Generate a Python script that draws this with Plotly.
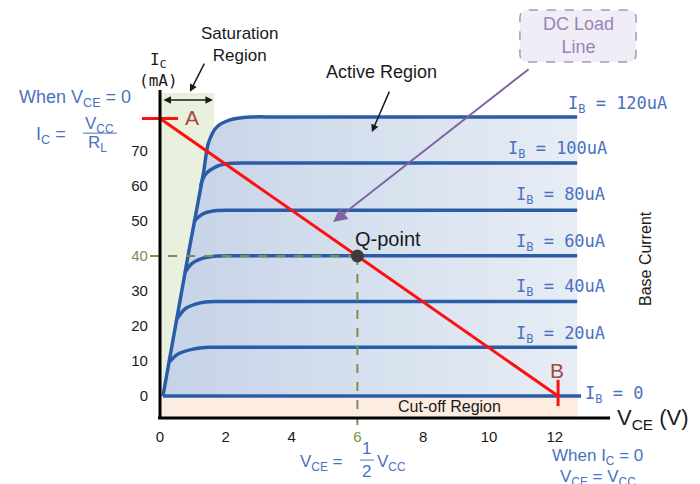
import plotly.graph_objects as go

# Collector characteristic curves (V_CE in volts, I_C in mA)
vce_120 = [0.09, 0.89, 1.32, 1.47, 1.73, 2.13, 2.74, 3.6, 12.68]
ic_120 = [0, 42, 63.6, 72.2, 76.9, 78.9, 79.7, 79.7, 79.7]
vce_100 = [1.23, 1.37, 1.73, 2.13, 2.74, 3.6, 12.68]
ic_100 = [60, 63.2, 65.6, 66.5, 66.6, 66.6, 66.6]
vce_80 = [1.03, 1.15, 1.37, 1.73, 2.13, 3.0, 12.68]
ic_80 = [49.7, 51.0, 52.3, 53.0, 53.1, 53.1, 53.1]
vce_60 = [0.76, 0.95, 1.31, 1.73, 2.13, 3.0, 12.68]
ic_60 = [35.3, 37.7, 39.4, 40.0, 40.1, 40.1, 40.1]
vce_40 = [0.51, 0.78, 1.22, 1.72, 2.6, 12.68]
ic_40 = [22, 25, 26.6, 27.0, 27.0, 27.0]
vce_20 = [0.27, 0.55, 1.01, 1.52, 2.4, 12.68]
ic_20 = [9.6, 12.0, 13.4, 13.9, 13.9, 13.9]
vce_0 = [0.09, 12.8]
ic_0 = [0, 0]

# DC load line, its end markers and the Q-point
vce_load = [0, 12.1]
ic_load = [79.3, 0]
vce_a_tick = [-0.55, 0.55]
ic_a_tick = [79.3, 79.3]
vce_b_tick = [12.1, 12.1]
ic_b_tick = [4.6, -2.9]
q_vce = 6
q_ic = 40

# Region bounds
sat_v = [0, 1.65]
sat_i = [0, 86.6]
cut_v = [0, 12.7]
cut_i = [-6.3, 0]

x_ticks = [0, 2, 4, 6, 8, 10, 12]
y_ticks = [0, 10, 20, 30, 40, 50, 60, 70]

BLUE = '#2b5ca8'
TXT_BLUE = '#4a72c0'
OLIVE = '#7d8f4a'
RED = '#ff1010'
BROWN = '#a3483c'
SANS = 'Liberation Sans'
MONO = 'DejaVu Sans Mono'

fig = go.Figure()

# Active region shading under the top curve
fig.add_trace(go.Scatter(
    x=vce_120, y=ic_120, mode='lines', line=dict(color=BLUE, width=3.5, shape='spline', smoothing=0.8),
    fill='tozeroy', fillgradient=dict(type='horizontal', colorscale=[[0, '#c5d3e7'], [1, '#e7edf5']]),
    hoverinfo='skip'))

for xs, ys in [(vce_100, ic_100), (vce_80, ic_80), (vce_60, ic_60),
               (vce_40, ic_40), (vce_20, ic_20), (vce_0, ic_0)]:
    fig.add_trace(go.Scatter(x=xs, y=ys, mode='lines',
                             line=dict(color=BLUE, width=3.5, shape='spline', smoothing=0.8)))

# Q-point guides
fig.add_trace(go.Scatter(x=[-0.3, q_vce], y=[q_ic, q_ic], mode='lines',
                         line=dict(color=OLIVE, width=2, dash='dash')))
fig.add_trace(go.Scatter(x=[q_vce, q_vce], y=[q_ic, -8.3], mode='lines',
                         line=dict(color=OLIVE, width=2, dash='dash')))

fig.add_trace(go.Scatter(x=vce_load, y=ic_load, mode='lines', line=dict(color=RED, width=3)))
fig.add_trace(go.Scatter(x=vce_a_tick, y=ic_a_tick, mode='lines', line=dict(color=RED, width=3)))
fig.add_trace(go.Scatter(x=vce_b_tick, y=ic_b_tick, mode='lines', line=dict(color=RED, width=3)))
fig.add_trace(go.Scatter(x=[q_vce], y=[q_ic], mode='markers',
                         marker=dict(color='#3c3c3c', size=13)))

# Regions and axis lines
fig.add_shape(type='rect', x0=sat_v[0], x1=sat_v[1], y0=sat_i[0], y1=sat_i[1],
              fillcolor='#e9f0dd', line_width=0, layer='below')
fig.add_shape(type='rect', x0=cut_v[0], x1=cut_v[1], y0=cut_i[0], y1=cut_i[1],
              fillcolor='#fdece0', line_width=0, layer='below')
fig.add_shape(type='line', x0=-0.06, x1=13.68, y0=-6.3, y1=-6.3, line=dict(color='black', width=3))
fig.add_shape(type='line', x0=0, x1=0, y0=-6.3, y1=87.4, line=dict(color='black', width=3))


def rounded_rect(x0, x1, y0, y1, rx, ry):
    return (f'M{x0 + rx},{y0} L{x1 - rx},{y0} Q{x1},{y0} {x1},{y0 + ry} '
            f'L{x1},{y1 - ry} Q{x1},{y1} {x1 - rx},{y1} L{x0 + rx},{y1} '
            f'Q{x0},{y1} {x0},{y1 - ry} L{x0},{y0 + ry} Q{x0},{y0} {x0 + rx},{y0} Z')


fig.add_shape(type='path', path=rounded_rect(10.94, 14.47, 95.4, 110.3, 0.25, 2.3),
              fillcolor='#f1edf6', line=dict(color='#a596bd', width=1.5, dash='dash'))


def note(x, y, text, color='#1a1a1a', size=14, family=SANS, **kw):
    fig.add_annotation(x=x, y=y, text=text, showarrow=False,
                       font=dict(color=color, size=size, family=family), **kw)


def arrow(x, y, ax, ay, color='#1a1a1a', width=1.5, size=1.0, **kw):
    fig.add_annotation(x=x, y=y, ax=ax, ay=ay, axref='x', ayref='y', text='', showarrow=True,
                       arrowhead=2, arrowsize=size, arrowwidth=width, arrowcolor=color, **kw)


note(2.43, 100.3, 'Saturation<br>Region', size=17)
arrow(0.91, 86.9, 1.37, 95.4)
arrow(1.61, 84.6, 0.06, 84.6, arrowside='end+start')
note(6.72, 92.6, 'Active Region', size=18)
arrow(6.44, 75.4, 6.99, 87.4)
note(12.72, 103.0, 'DC Load<br>Line', color='#9885b5', size=18)
arrow(5.26, 49.7, 11.25, 93.7, color='#8064a2', width=2, size=1.4)

note(-0.05, 93.2, 'I<sub>C</sub><br>(mA)', size=16, family=MONO)
note(-2.58, 84.9, 'When V<sub>CE</sub> = 0', color=TXT_BLUE, size=18)
note(-3.31, 74.3, 'I<sub>C</sub> =', color=TXT_BLUE, size=18)
note(-1.85, 77.4, 'V<sub>CC</sub>', color=TXT_BLUE, size=17)
note(-1.9, 72.1, 'R<sub>L</sub>', color=TXT_BLUE, size=17)
fig.add_shape(type='line', x0=-2.34, x1=-1.31, y0=75.1, y1=75.1, line=dict(color=TXT_BLUE, width=1))

note(0.97, 79.7, 'A', color=BROWN, size=21)
note(12.07, 7.4, 'B', color=BROWN, size=21)
note(6.93, 45.0, 'Q-point', size=20)
note(8.81, -3.0, 'Cut-off Region', size=16)

ib_text = ['I<sub>B</sub> = 120uA', 'I<sub>B</sub> = 100uA', 'I<sub>B</sub> = 80uA',
           'I<sub>B</sub> = 60uA', 'I<sub>B</sub> = 40uA', 'I<sub>B</sub> = 20uA']
ib_pos = [(13.92, 83.4), (12.07, 70.3), (12.16, 57.4), (12.16, 44.0), (12.16, 30.9), (12.16, 17.7)]
for (vx, iy), t in zip(ib_pos, ib_text):
    note(vx, iy, t, color=TXT_BLUE, size=17, family=MONO)
note(12.85, 0.3, 'I<sub>B</sub> = 0', color=TXT_BLUE, size=17, family=MONO, xanchor='left')
note(14.74, 39.4, 'Base Current', size=16, textangle=-90)
note(13.83, -6.6, 'V<sub>CE</sub> (V)', size=22, xanchor='left')

note(4.92, -19.1, 'V<sub>CE</sub> =', color=TXT_BLUE, size=17)
note(6.29, -15.1, '1', color=TXT_BLUE, size=17)
note(6.29, -21.7, '2', color=TXT_BLUE, size=17)
fig.add_shape(type='line', x0=6.08, x1=6.5, y0=-18.3, y1=-18.3, line=dict(color=TXT_BLUE, width=1))
note(7.05, -19.1, 'V<sub>CC</sub>', color=TXT_BLUE, size=17)
note(13.31, -17.4, 'When I<sub>C</sub> = 0', color=TXT_BLUE, size=17)
note(13.31, -23.4, 'V<sub>CE</sub> = V<sub>CC</sub>', color=TXT_BLUE, size=17)

x_text = [f'<span style="color:{OLIVE}">{v}</span>' if v == q_vce else str(v) for v in x_ticks]
y_text = [f'<span style="color:{OLIVE}">{v}</span>' if v == q_ic else str(v) for v in y_ticks]

# The page adds an 8 px body margin, so the ranges are set for the shifted view
fig.update_layout(
    width=700, height=484,
    margin=dict(l=0, r=0, t=0, b=0),
    plot_bgcolor='white', paper_bgcolor='white',
    showlegend=False,
    xaxis=dict(range=[-4.620, 16.657], anchor='free', position=0.1529,
               tickvals=x_ticks, ticktext=x_text, ticks='', ticklabelstandoff=8,
               showgrid=False, zeroline=False, showline=False,
               tickfont=dict(family=SANS, size=15, color='#1a1a1a')),
    yaxis=dict(range=[-27.43, 110.86], anchor='free', position=0.2171,
               tickvals=y_ticks, ticktext=y_text, ticks='', ticklabelstandoff=12,
               showgrid=False, zeroline=False, showline=False,
               tickfont=dict(family=SANS, size=15, color='#1a1a1a')),
)

fig.write_html("out.html")
